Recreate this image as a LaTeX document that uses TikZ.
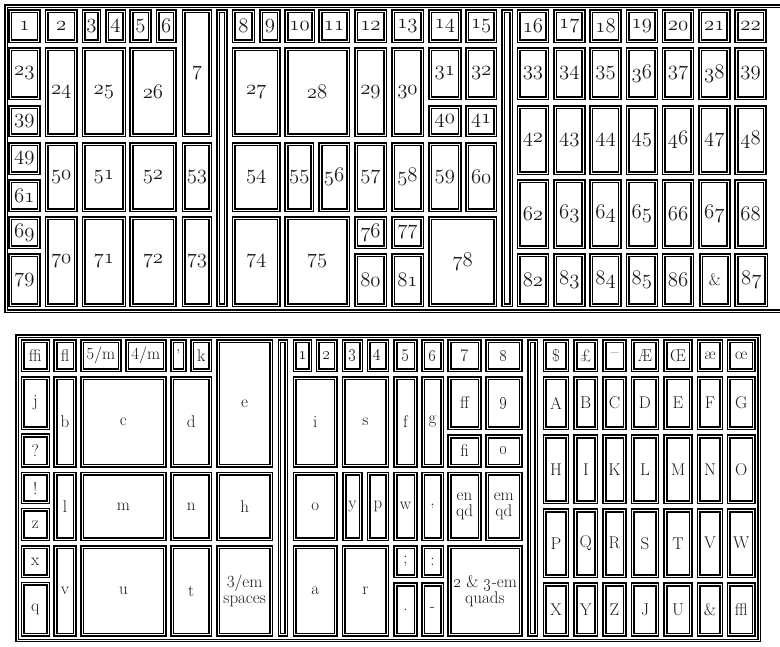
\documentclass[tikz,border=0pt]{standalone}
\usetikzlibrary{positioning}

\tikzset{
  slotbox/.style={draw=black, double=white, line width=1.7pt, double distance=0.8pt, inner sep=0pt, align=center, text=black!90},
  numslot/.style={slotbox, font=\fontsize{20}{22}\usefont{OML}{lmm}{m}{it}},
  typeslot/.style={slotbox, font=\fontsize{17}{16}\selectfont},
  caseframe/.style={draw=black, double=white, line width=1.5pt, double distance=0.8pt}
}
% one compartment: [style]{name}{x1}{y1}{x2}{y2}{label}
\newcommand{\pocket}[7][numslot]{\node[#1, minimum width={(#5)-(#3)-4.2}, minimum height={(#6)-(#4)-4.2}] (#2) at ({((#3)+(#5))/2},{((#4)+(#6))/2}) {#7};}
\def\capxa{{542.7,573.3,602.3,630.7,663.3,696.7,726.7}}
\def\capxb{{569.3,598.3,626.7,659.3,692.7,723.3,755.7}}

\begin{document}
\begin{tikzpicture}[x=1pt, y=-1pt]
    \useasboundingbox (0,0) rectangle (780,646);

    % Upper case
    \pocket[caseframe]{topcase}{4}{4}{790}{313}{}
    \pocket[caseframe]{tbarA}{216}{9}{227.7}{307}{}
    \pocket[caseframe]{tbarB}{501}{9}{513.3}{307}{}

    % Upper case, left and middle blocks
    \pocket{t1}{8}{9}{40.7}{43}{1}
    \pocket{t2}{44.7}{9}{77.7}{43}{2}
    \pocket{t3}{81.7}{9}{101}{43}{3}
    \pocket{t4}{105}{9}{126}{43}{4}
    \pocket{t5}{129.3}{9}{151.7}{43}{5}
    \pocket{t6}{155.7}{9}{176.7}{43}{6}
    \pocket{t7}{181.7}{9}{212.3}{137}{7}
    \pocket{t8}{231.7}{9}{255}{43}{8}
    \pocket{t9}{259}{9}{280.7}{43}{9}
    \pocket{t10}{284.3}{9}{315}{43}{10}
    \pocket{t11}{318.3}{9}{350}{43}{11}
    \pocket{t12}{354}{9}{387}{43}{12}
    \pocket{t13}{391}{9}{424}{43}{13}
    \pocket{t14}{428}{9}{461.7}{43}{14}
    \pocket{t15}{465}{9}{497.3}{43}{15}

    \pocket{t23}{8}{47}{40.7}{100}{23}
    \pocket{t39}{8}{105}{40.7}{137}{39}
    \pocket{t24}{44.7}{47}{77.7}{137}{24}
    \pocket{t25}{81.7}{47}{126}{137}{25}
    \pocket{t26}{129.3}{47}{176.7}{137}{26}
    \pocket{t27}{231.7}{47}{280.7}{137}{27}
    \pocket{t28}{284.3}{47}{350}{137}{28}
    \pocket{t29}{354}{47}{387}{137}{29}
    \pocket{t30}{391}{47}{424}{137}{30}
    \pocket{t31}{428}{47}{461.7}{100}{31}
    \pocket{t32}{465}{47}{497.3}{100}{32}
    \pocket{t40}{428}{105}{461.7}{137}{40}
    \pocket{t41}{465}{105}{497.3}{137}{41}

    \pocket{t49}{8}{142}{40.7}{175}{49}
    \pocket{t61}{8}{179}{40.7}{212}{61}
    \pocket{t50}{44.7}{142}{77.7}{212}{50}
    \pocket{t51}{81.7}{142}{126}{212}{51}
    \pocket{t52}{129.3}{142}{176.7}{212}{52}
    \pocket{t53}{181.7}{142}{212.3}{212}{53}
    \pocket{t54}{231.7}{142}{280.7}{212}{54}
    \pocket{t55}{284.3}{142}{314.3}{212}{55}
    \pocket{t56}{318.3}{142}{350}{212}{56}
    \pocket{t57}{354}{142}{387}{212}{57}
    \pocket{t58}{391}{142}{424}{212}{58}
    \pocket{t59}{428}{142}{461.7}{212}{59}
    \pocket{t60}{465}{142}{497.3}{212}{60}

    \pocket{t69}{8}{216}{40.7}{249}{69}
    \pocket{t79}{8}{253}{40.7}{307}{79}
    \pocket{t70}{44.7}{216}{77.7}{307}{70}
    \pocket{t71}{81.7}{216}{126}{307}{71}
    \pocket{t72}{129.3}{216}{176.7}{307}{72}
    \pocket{t73}{181.7}{216}{212.3}{307}{73}
    \pocket{t74}{231.7}{216}{280.7}{307}{74}
    \pocket{t75}{284.3}{216}{350}{307}{75}
    \pocket{t76}{354}{216}{387}{249}{76}
    \pocket{t77}{391}{216}{424}{249}{77}
    \pocket{t80}{354}{253}{387}{307}{80}
    \pocket{t81}{391}{253}{424}{307}{81}
    \pocket{t78}{428}{216}{497.3}{307}{78}

    % Upper case, right block
    \foreach \lab [count=\i from 0] in {16,17,18,19,20,21,22} {
        \pocket{ra\i}{516.7+36.27*\i}{9}{549.3+36.27*\i}{43}{\lab}
    }
    \foreach \lab [count=\i from 0] in {33,34,35,36,37,38,39} {
        \pocket{rb\i}{516.7+36.27*\i}{47}{549.3+36.27*\i}{100}{\lab}
    }
    \foreach \lab [count=\i from 0] in {42,43,44,45,46,47,48} {
        \pocket{rc\i}{516.7+36.27*\i}{105}{549.3+36.27*\i}{175}{\lab}
    }
    \foreach \lab [count=\i from 0] in {62,63,64,65,66,67,68} {
        \pocket{rd\i}{516.7+36.27*\i}{179}{549.3+36.27*\i}{249}{\lab}
    }
    \foreach \lab [count=\i from 0] in {82,83,84,85,86} {
        \pocket{re\i}{516.7+36.27*\i}{253}{549.3+36.27*\i}{307}{\lab}
    }
    \pocket[typeslot]{re5}{699}{253}{731}{307}{\&}
    \pocket{re6}{734.3}{253}{768.3}{307}{87}

    % Lower case
    \pocket[caseframe]{lowcase}{15}{334}{761}{642.5}{}
    \pocket[caseframe]{lbarA}{277.3}{339}{288.3}{636.7}{}
    \pocket[caseframe]{lbarB}{527}{339}{538.3}{636.7}{}

    % Lower case, left block
    \pocket[typeslot]{lffi}{20.7}{339}{50}{372}{ffi}
    \pocket[typeslot]{lfl}{53.3}{339}{76.7}{372}{fl}
    \pocket[typeslot]{lfive}{80}{339}{121.7}{372}{5/m}
    \pocket[typeslot]{lfour}{125}{339}{166.7}{372}{4/m}
    \pocket[typeslot]{lquote}{170}{339}{186.7}{372}{’}
    \pocket[typeslot]{lk}{190}{339}{212.3}{372}{k}
    \pocket[typeslot]{le}{216}{339}{273.3}{467.7}{e}
    \pocket[typeslot]{lj}{20.7}{376}{50}{430}{j}
    \pocket[typeslot]{lqm}{20.7}{433.3}{50}{467.7}{?}
    \pocket[typeslot]{lb}{53.3}{376}{76.7}{467.7}{b}
    \pocket[typeslot]{lc}{80}{376}{166.7}{467.7}{c}
    \pocket[typeslot]{ld}{170}{376}{212.3}{467.7}{d}
    \pocket[typeslot]{lexcl}{20.7}{471.7}{50}{504.3}{!}
    \pocket[typeslot]{lz}{20.7}{507.7}{50}{541}{z}
    \pocket[typeslot]{ll}{53.3}{471.7}{76.7}{541}{l}
    \pocket[typeslot]{lm}{80}{471.7}{166.7}{541}{m}
    \pocket[typeslot]{ln}{170}{471.7}{212.3}{541}{n}
    \pocket[typeslot]{lh}{216}{471.7}{273.3}{541}{h}
    \pocket[typeslot]{lx}{20.7}{545}{50}{578.3}{x}
    \pocket[typeslot]{lq}{20.7}{581.7}{50}{636.7}{q}
    \pocket[typeslot]{lv}{53.3}{545}{76.7}{636.7}{v}
    \pocket[typeslot]{lu}{80}{545}{166.7}{636.7}{u}
    \pocket[typeslot]{lt}{170}{545}{212.3}{636.7}{t}
    \pocket[typeslot]{lspaces}{216}{545}{273.3}{636.7}{3/em\\spaces}

    % Lower case, middle block
    \foreach \lab/\xa/\xb [count=\i] in {1/292.7/312.3, 2/315.7/337.7, 3/341.7/363.3, 4/366.7/389, 5/393.3/417.7, 6/421/444, 7/447.3/481.7, 8/485/522.7} {
        \pocket[typeslot]{mn\i}{\xa}{339}{\xb}{372}{\oldstylenums{\lab}}
    }
    \pocket[typeslot]{mi}{292.7}{376}{337.7}{467.7}{i}
    \pocket[typeslot]{ms}{341.7}{376}{389}{467.7}{s}
    \pocket[typeslot]{mf}{393.3}{376}{417.7}{467.7}{f}
    \pocket[typeslot]{mg}{421}{376}{444}{467.7}{g}
    \pocket[typeslot]{mff}{447.3}{376}{481.7}{430}{ff}
    \pocket[typeslot]{mnine}{485}{376}{522.7}{430}{\oldstylenums{9}}
    \pocket[typeslot]{mfi}{447.3}{434.3}{481.7}{467.7}{fi}
    \pocket[typeslot]{mzero}{485}{434.3}{522.7}{467.7}{\oldstylenums{0}}
    \pocket[typeslot]{mo}{292.7}{471.7}{337.7}{541}{o}
    \pocket[typeslot]{my}{342.3}{471.7}{362.7}{541}{y}
    \pocket[typeslot]{mp}{366.7}{471.7}{389.3}{541}{p}
    \pocket[typeslot]{mw}{393.3}{471.7}{417.7}{541}{w}
    \pocket[typeslot]{mcomma}{421}{471.7}{444}{541}{,}
    \pocket[typeslot]{menqd}{447.3}{471.7}{481.7}{541}{en\\qd}
    \pocket[typeslot]{memqd}{485}{471.7}{522.7}{541}{em\\qd}
    \pocket[typeslot]{ma}{292.7}{545}{337.7}{636.7}{a}
    \pocket[typeslot]{mr}{341.7}{545}{389}{636.7}{r}
    \pocket[typeslot]{msemi}{393.3}{545}{417.7}{578.3}{;}
    \pocket[typeslot]{mcolon}{421}{545}{444}{578.3}{:}
    \pocket[typeslot]{mdot}{393.3}{582.3}{417.7}{636.7}{.}
    \pocket[typeslot]{mdash}{421}{582.3}{444}{636.7}{-}
    \pocket[typeslot]{mquads}{447.3}{545}{522.7}{636.7}{\oldstylenums{2} \& \oldstylenums{3}-em\\quads}

    % Lower case, capitals
    \foreach \ya/\yb/\labs [count=\r] in {339/372/{\$,£,–,Æ,Œ,æ,œ}, 376/430/{A,B,C,D,E,F,G}, 434.3/504.3/{H,I,K,L,M,N,O}, 508.3/578.3/{P,Q,R,S,T,V,W}, 582.3/636.7/{X,Y,Z,J,U,\&,ffl}} {
        \foreach \lab [count=\i from 0] in \labs {
            \pgfmathsetmacro\xa{\capxa[\i]}
            \pgfmathsetmacro\xb{\capxb[\i]}
            \pocket[typeslot]{cap\r\i}{\xa}{\ya}{\xb}{\yb}{\lab}
        }
    }

\end{tikzpicture}
\end{document}
